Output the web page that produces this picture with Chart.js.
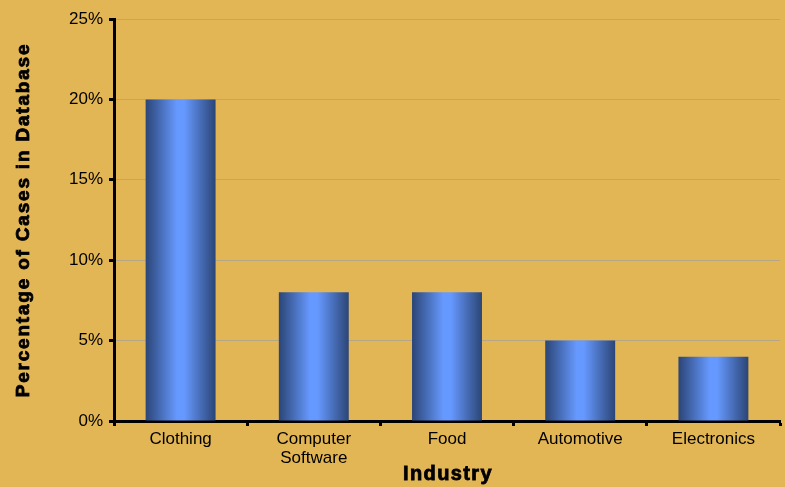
<!DOCTYPE html>
<html>
<head>
<meta charset="utf-8">
<script src="https://cdn.jsdelivr.net/npm/chart.js@4"></script>
<style>
  html, body { margin: 0; padding: 0; background: #E2B655; }
  #wrap { width: 785px; height: 487px; }
</style>
</head>
<body>
<div id="wrap"><canvas id="chart_industry"></canvas></div>
<script>
var industries = ['Clothing', ['Computer', 'Software'], 'Food', 'Automotive', 'Electronics'];
var casePercent = [20, 8, 8, 5, 4];
var yTicks = [0, 5, 10, 15, 20, 25];
var xTitle = 'Industry';
var yTitle = 'Percentage of Cases in Database';

var barPct = 0.525;

function barGradient(context) {
    var chart = context.chart;
    var xs = chart.scales.x;
    if (!xs || xs.width === undefined) return '#6699FF';
    var cx = xs.getPixelForValue(context.dataIndex);
    var w = xs.width / industries.length * barPct;
    var g = chart.ctx.createLinearGradient(cx - w / 2, 0, cx + w / 2, 0);
    g.addColorStop(0, '#2B4576');
    g.addColorStop(0.45, '#6699FF');
    g.addColorStop(0.55, '#6699FF');
    g.addColorStop(1, '#2B4576');
    return g;
}

var chart_industry = new Chart(document.getElementById('chart_industry'), {
    type: 'bar',
    data: {
        labels: industries,
        datasets: [
            {
                label: 'Percentage of Cases',
                data: casePercent,
                backgroundColor: barGradient,
                borderWidth: 0,
                categoryPercentage: 1,
                barPercentage: barPct
            }
        ]
    },
    options: {
        animation: false,
        responsive: true,
        maintainAspectRatio: false,
        layout: {
            padding: { top: 19, right: 5, left: 0, bottom: 0 }
        },
        plugins: {
            legend: { display: false },
            tooltip: { enabled: false }
        },
        scales: {
            x: {
                afterFit: function (axis) { axis.height = 66; },
                grid: {
                    display: true,
                    drawOnChartArea: false,
                    drawTicks: true,
                    tickLength: 5,
                    tickColor: '#000',
                    tickWidth: 3
                },
                border: { color: '#000', width: 3 },
                ticks: {
                    color: '#000',
                    font: { family: 'Liberation Sans', size: 17, lineHeight: 1.12 },
                    padding: 4,
                    maxRotation: 0
                }
            },
            y: {
                min: 0,
                max: 25,
                afterFit: function (axis) { axis.width = 114; },
                afterBuildTicks: function (axis) {
                    axis.ticks = yTicks.map(function (v) { return { value: v }; });
                },
                grid: {
                    color: 'rgba(165,160,150,0.75)',
                    lineWidth: 1,
                    borderDash: [1, 1],
                    tickColor: '#000',
                    tickWidth: 3,
                    tickBorderDash: [],
                    tickLength: 5
                },
                border: { color: '#000', width: 3 },
                ticks: {
                    color: '#000',
                    font: { family: 'Liberation Sans', size: 17 },
                    padding: 6,
                    callback: function (v) { return v + '%'; }
                }
            }
        }
    },
    plugins: [{
        id: 'customPlugin',
        beforeDraw: (chart, args, options) => {
            const ctx = chart.canvas.getContext('2d');
            ctx.save();
            ctx.globalCompositeOperation = 'destination-over';
            ctx.fillStyle = '#E2B655';
            ctx.fillRect(0, 0, chart.canvas.width, chart.canvas.height);
            ctx.restore();
        }
    }, {
        // axis titles drawn by hand so they can get letter spacing
        id: 'axisTitles',
        afterDraw: (chart) => {
            const ctx = chart.ctx;
            const area = chart.chartArea;
            ctx.save();
            ctx.fillStyle = '#000';
            ctx.strokeStyle = '#000';
            ctx.lineWidth = 0.8;
            ctx.textAlign = 'center';
            ctx.textBaseline = 'middle';

            ctx.font = 'bold 20px "Liberation Sans"';
            ctx.letterSpacing = '1.4px';
            const xc = (area.left + area.right) / 2 + 1;
            ctx.fillText(xTitle, xc, 474);
            ctx.strokeText(xTitle, xc, 474);

            ctx.translate(24, (area.top + area.bottom) / 2);
            ctx.rotate(-Math.PI / 2);
            ctx.font = 'bold 19px "Liberation Sans"';
            ctx.letterSpacing = '1.8px';
            ctx.fillText(yTitle, 0, 0);
            ctx.strokeText(yTitle, 0, 0);
            ctx.restore();
        }
    }]
});
</script>
</body>
</html>
